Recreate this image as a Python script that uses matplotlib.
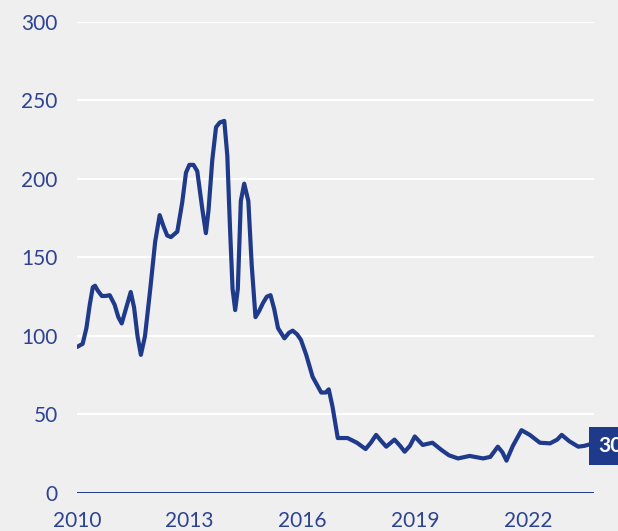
import matplotlib
matplotlib.use("Agg")
from matplotlib import pyplot as plt

# readings (decimal year, value)
years = [2010.0, 2010.15, 2010.25, 2010.34, 2010.42, 2010.48, 2010.55, 2010.66, 2010.77,
         2010.87, 2011.0, 2011.1, 2011.19, 2011.31, 2011.43, 2011.52, 2011.61, 2011.70,
         2011.81, 2011.95, 2012.08, 2012.2, 2012.3, 2012.4, 2012.5, 2012.67, 2012.8,
         2012.9, 2012.99, 2013.1, 2013.2, 2013.34, 2013.43, 2013.5, 2013.6, 2013.7,
         2013.8, 2013.92, 2014.0, 2014.07, 2014.14, 2014.21, 2014.28, 2014.36, 2014.45,
         2014.56, 2014.65, 2014.75, 2014.85, 2014.95, 2015.05, 2015.15, 2015.25, 2015.35,
         2015.52, 2015.64, 2015.74, 2015.86, 2015.96, 2016.1, 2016.27, 2016.5, 2016.62,
         2016.7, 2016.8, 2016.94, 2017.2, 2017.45, 2017.68, 2017.82, 2017.96, 2018.1,
         2018.23, 2018.45, 2018.6, 2018.72, 2018.86, 2018.99, 2019.2, 2019.46, 2019.7,
         2019.9, 2020.14, 2020.45, 2020.81, 2021.0, 2021.2, 2021.32, 2021.43, 2021.6,
         2021.83, 2022.05, 2022.32, 2022.59, 2022.78, 2022.9, 2023.1, 2023.34, 2023.5,
         2023.65]
values = [93, 95, 105, 120, 131, 132, 129, 125.5, 125.5,
          126, 120, 112, 108, 118, 128, 118, 100, 88,
          100, 130, 160, 177, 170, 164, 163, 166.5, 185,
          204, 209, 209, 205, 180, 165.5, 180, 212, 233,
          236, 237, 215, 170, 130, 116.5, 130, 186, 197,
          186, 145, 112, 116, 121, 125, 126, 117, 105,
          98.5, 102, 103.4, 101, 97.5, 88, 74, 64, 64,
          66, 55, 35, 35, 32, 28, 32, 37, 33,
          29.5, 34, 30, 26.3, 30, 36, 30.6, 32, 27.4,
          24, 22, 23.6, 22, 23, 29.5, 26, 20.6, 30,
          40, 37, 32, 31.6, 34, 37, 33, 29.5, 30,
          31]
last_label = "30"

yticks = [0, 50, 100, 150, 200, 250, 300]
xticks = [2010, 2013, 2016, 2019, 2022]

navy = "#1f3a8a"
text_col = "#2d4392"
bg = "#efefef"

plt.rcParams["font.family"] = ["Lato", "DejaVu Sans"]

fig = plt.figure(figsize=(6.18, 5.31), dpi=100)
fig.patch.set_facecolor(bg)
ax = fig.add_axes([0.1246, 0.0716, 0.8366, 0.887])
ax.set_facecolor(bg)

for t in yticks[1:]:
    ax.axhline(t, color="white", lw=1.6, zorder=1)
ax.axhline(0, color=navy, lw=1.4, zorder=2)

ax.plot(years, values, color=navy, lw=3.0, solid_joinstyle="round",
        solid_capstyle="round", zorder=3)

ax.annotate(last_label, xy=(years[-1], 30), xytext=(6, 0),
            textcoords="offset points", ha="left", va="center",
            color="white", fontsize=15, fontweight="bold", zorder=4,
            annotation_clip=False,
            bbox=dict(boxstyle="square,pad=0.45", fc=navy, ec="none"))

ax.set_xlim(2010, 2023.76)
ax.set_ylim(0, 300)
ax.set_yticks(yticks)
ax.set_xticks(xticks)
ax.set_xticklabels([str(x) for x in xticks])
ax.tick_params(axis="both", length=0, labelsize=15, colors=text_col)
ax.tick_params(axis="y", pad=14)
ax.tick_params(axis="x", pad=13)
for s in ax.spines.values():
    s.set_visible(False)

fig.savefig("out.png", dpi=100, facecolor=bg)
